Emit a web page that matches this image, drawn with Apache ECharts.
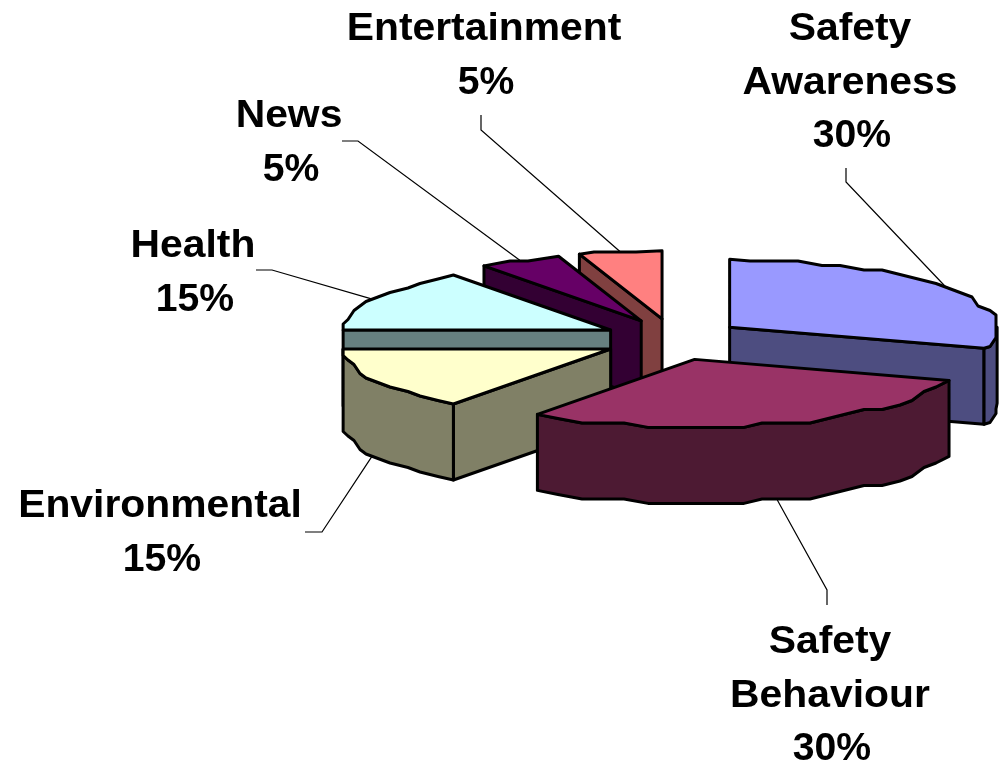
<!DOCTYPE html>
<html>
<head>
<meta charset="utf-8">
<style>html,body{margin:0;padding:0;background:#fff}#c{width:999px;height:761px}</style>
<script src="https://cdn.jsdelivr.net/npm/echarts@6/dist/echarts.min.js"></script>
</head>
<body>
<div id="c"></div>
<script>
var categories = ['Safety\nAwareness', 'Safety\nBehaviour', 'Environmental', 'Health', 'News', 'Entertainment'];
var shareValues = [30, 30, 15, 15, 5, 5];
var topColors = ['#9999FF', '#993366', '#FFFFCC', '#CCFFFF', '#660066', '#FF8080'];
var wallColors = ['#4D4D80', '#4D1A33', '#808066', '#668080', '#330033', '#804040'];
var drawOrder = [0, 5, 4, 3, 2, 1];

// projection of the tilted pie
var cx = 673, cy = 339.5, rx = 267.5, ry = 68, depth = 76, explodeX = 70, explodeY = 20.9;
// label anchor (centre x, first line centre y), leader elbow points
var labelLayout = [
  {x: 850, y: 30, tail: [[846, 168], [846, 182]]},
  {x: 830, y: 643, tail: [[827, 605], [827, 590]]},
  {x: 160, y: 507, tail: [[305, 532], [322, 532]]},
  {x: 193, y: 247, tail: [[256, 270], [272, 270]]},
  {x: 289, y: 117, tail: [[342, 141], [358, 141]]},
  {x: 484, y: 30, tail: [[481, 115], [481, 130]]}
];
var FONT = 'bold 38px "Liberation Sans", Arial, sans-serif';
var LINE = 53.5;
var NAME_STRETCH = 1.075;
var PERCENT_STRETCH = 1.03;
var PERCENT_NUDGE = 2;

var total = shareValues.reduce(function (a, b) { return a + b; }, 0);
var RAD = Math.PI / 180;

function snap(v, g) { return Math.round(v / g) * g; }

function rimPoints(ax, ay, a, b) {
  // walks the rim clockwise from a to b (degrees from 12 o'clock); the rim is coarsely stepped
  var pts = [[ax + rx * Math.sin(a * RAD), ay - ry * Math.cos(a * RAD)]];
  var step = 5;
  for (var t = Math.ceil(a / step + 0.5) * step; t < b - step / 2; t += step) {
    var x = snap(ax + rx * Math.sin(t * RAD), 6);
    var y = snap(ay - ry * Math.cos(t * RAD), 4.5);
    pts.push([Math.max(ax - rx, Math.min(ax + rx, x)), Math.max(ay - ry, Math.min(ay + ry, y))]);
  }
  pts.push([ax + rx * Math.sin(b * RAD), ay - ry * Math.cos(b * RAD)]);
  return pts;
}

function poly(points, fill, z2) {
  return {
    type: 'polygon',
    z2: z2,
    shape: {points: points},
    style: {fill: fill, stroke: '#000', lineWidth: 3, lineJoin: 'round'}
  };
}

function shift(pts, dy) { return pts.map(function (p) { return [p[0], p[1] + dy]; }); }

function renderSlice(params, api) {
  var i = params.dataIndex;
  var value = api.value(0);
  var before = 0;
  for (var k = 0; k < i; k++) before += shareValues[k];
  var a = before / total * 360;
  var b = (before + value) / total * 360;
  var mid = (a + b) / 2;
  var ax = cx + explodeX * Math.sin(mid * RAD);
  var ay = cy - explodeY * Math.cos(mid * RAD);
  var base = drawOrder.indexOf(i) * 10;
  var wall = wallColors[i];
  var kids = [];
  var pa = [ax + rx * Math.sin(a * RAD), ay - ry * Math.cos(a * RAD)];
  var pb = [ax + rx * Math.sin(b * RAD), ay - ry * Math.cos(b * RAD)];
  var apex = [ax, ay];

  // cut faces turned towards the viewer
  if (a > 180 && a < 360) {
    kids.push(poly([apex, pa, [pa[0], pa[1] + depth], [ax, ay + depth]], wall, base + 1));
  }
  if (b > 0 && b < 180) {
    kids.push(poly([apex, pb, [pb[0], pb[1] + depth], [ax, ay + depth]], wall, base + 1));
  }
  // outer rim wall on the front half
  var fa = Math.max(a, 90), fb = Math.min(b, 270);
  if (fb > fa) {
    var rim = rimPoints(ax, ay, fa, fb);
    kids.push(poly(rim.concat(shift(rim, depth).reverse()), wall, base + 2));
  }
  // top face
  kids.push(poly([apex].concat(rimPoints(ax, ay, a, b)), topColors[i], base + 3));

  // leader line from the rim middle to the label
  var onFront = mid > 90 && mid < 270;
  var start = [ax + rx * Math.sin(mid * RAD), ay - ry * Math.cos(mid * RAD) + (onFront ? depth : 0)];
  var lay = labelLayout[i];
  kids.push({
    type: 'polyline',
    z2: 100,
    shape: {points: lay.tail.concat([start])},
    style: {fill: null, stroke: '#000', lineWidth: 1.2}
  });
  // label: the name lines are set slightly wider than the percentage
  var nameLines = categories[i].split('\n');
  var lines = nameLines.concat([value / total * 100 + '%']);
  lines.forEach(function (line, n) {
    var isName = n < nameLines.length;
    kids.push({
      type: 'text',
      z2: 101,
      x: lay.x + (isName ? 0 : PERCENT_NUDGE),
      y: lay.y + n * LINE,
      scaleX: isName ? NAME_STRETCH : PERCENT_STRETCH,
      style: {
        x: 0, y: 0,
        text: line, font: FONT, fill: '#000',
        align: 'center', verticalAlign: 'middle'
      }
    });
  });
  return {type: 'group', children: kids};
}

var chart = echarts.init(document.getElementById('c'), null, {renderer: 'canvas'});
chart.setOption({
  animation: false,
  backgroundColor: '#ffffff',
  series: [{
    type: 'custom',
    coordinateSystem: 'none',
    renderItem: renderSlice,
    data: shareValues.map(function (v, i) { return {name: categories[i], value: [v]}; })
  }]
});
</script>
</body>
</html>
